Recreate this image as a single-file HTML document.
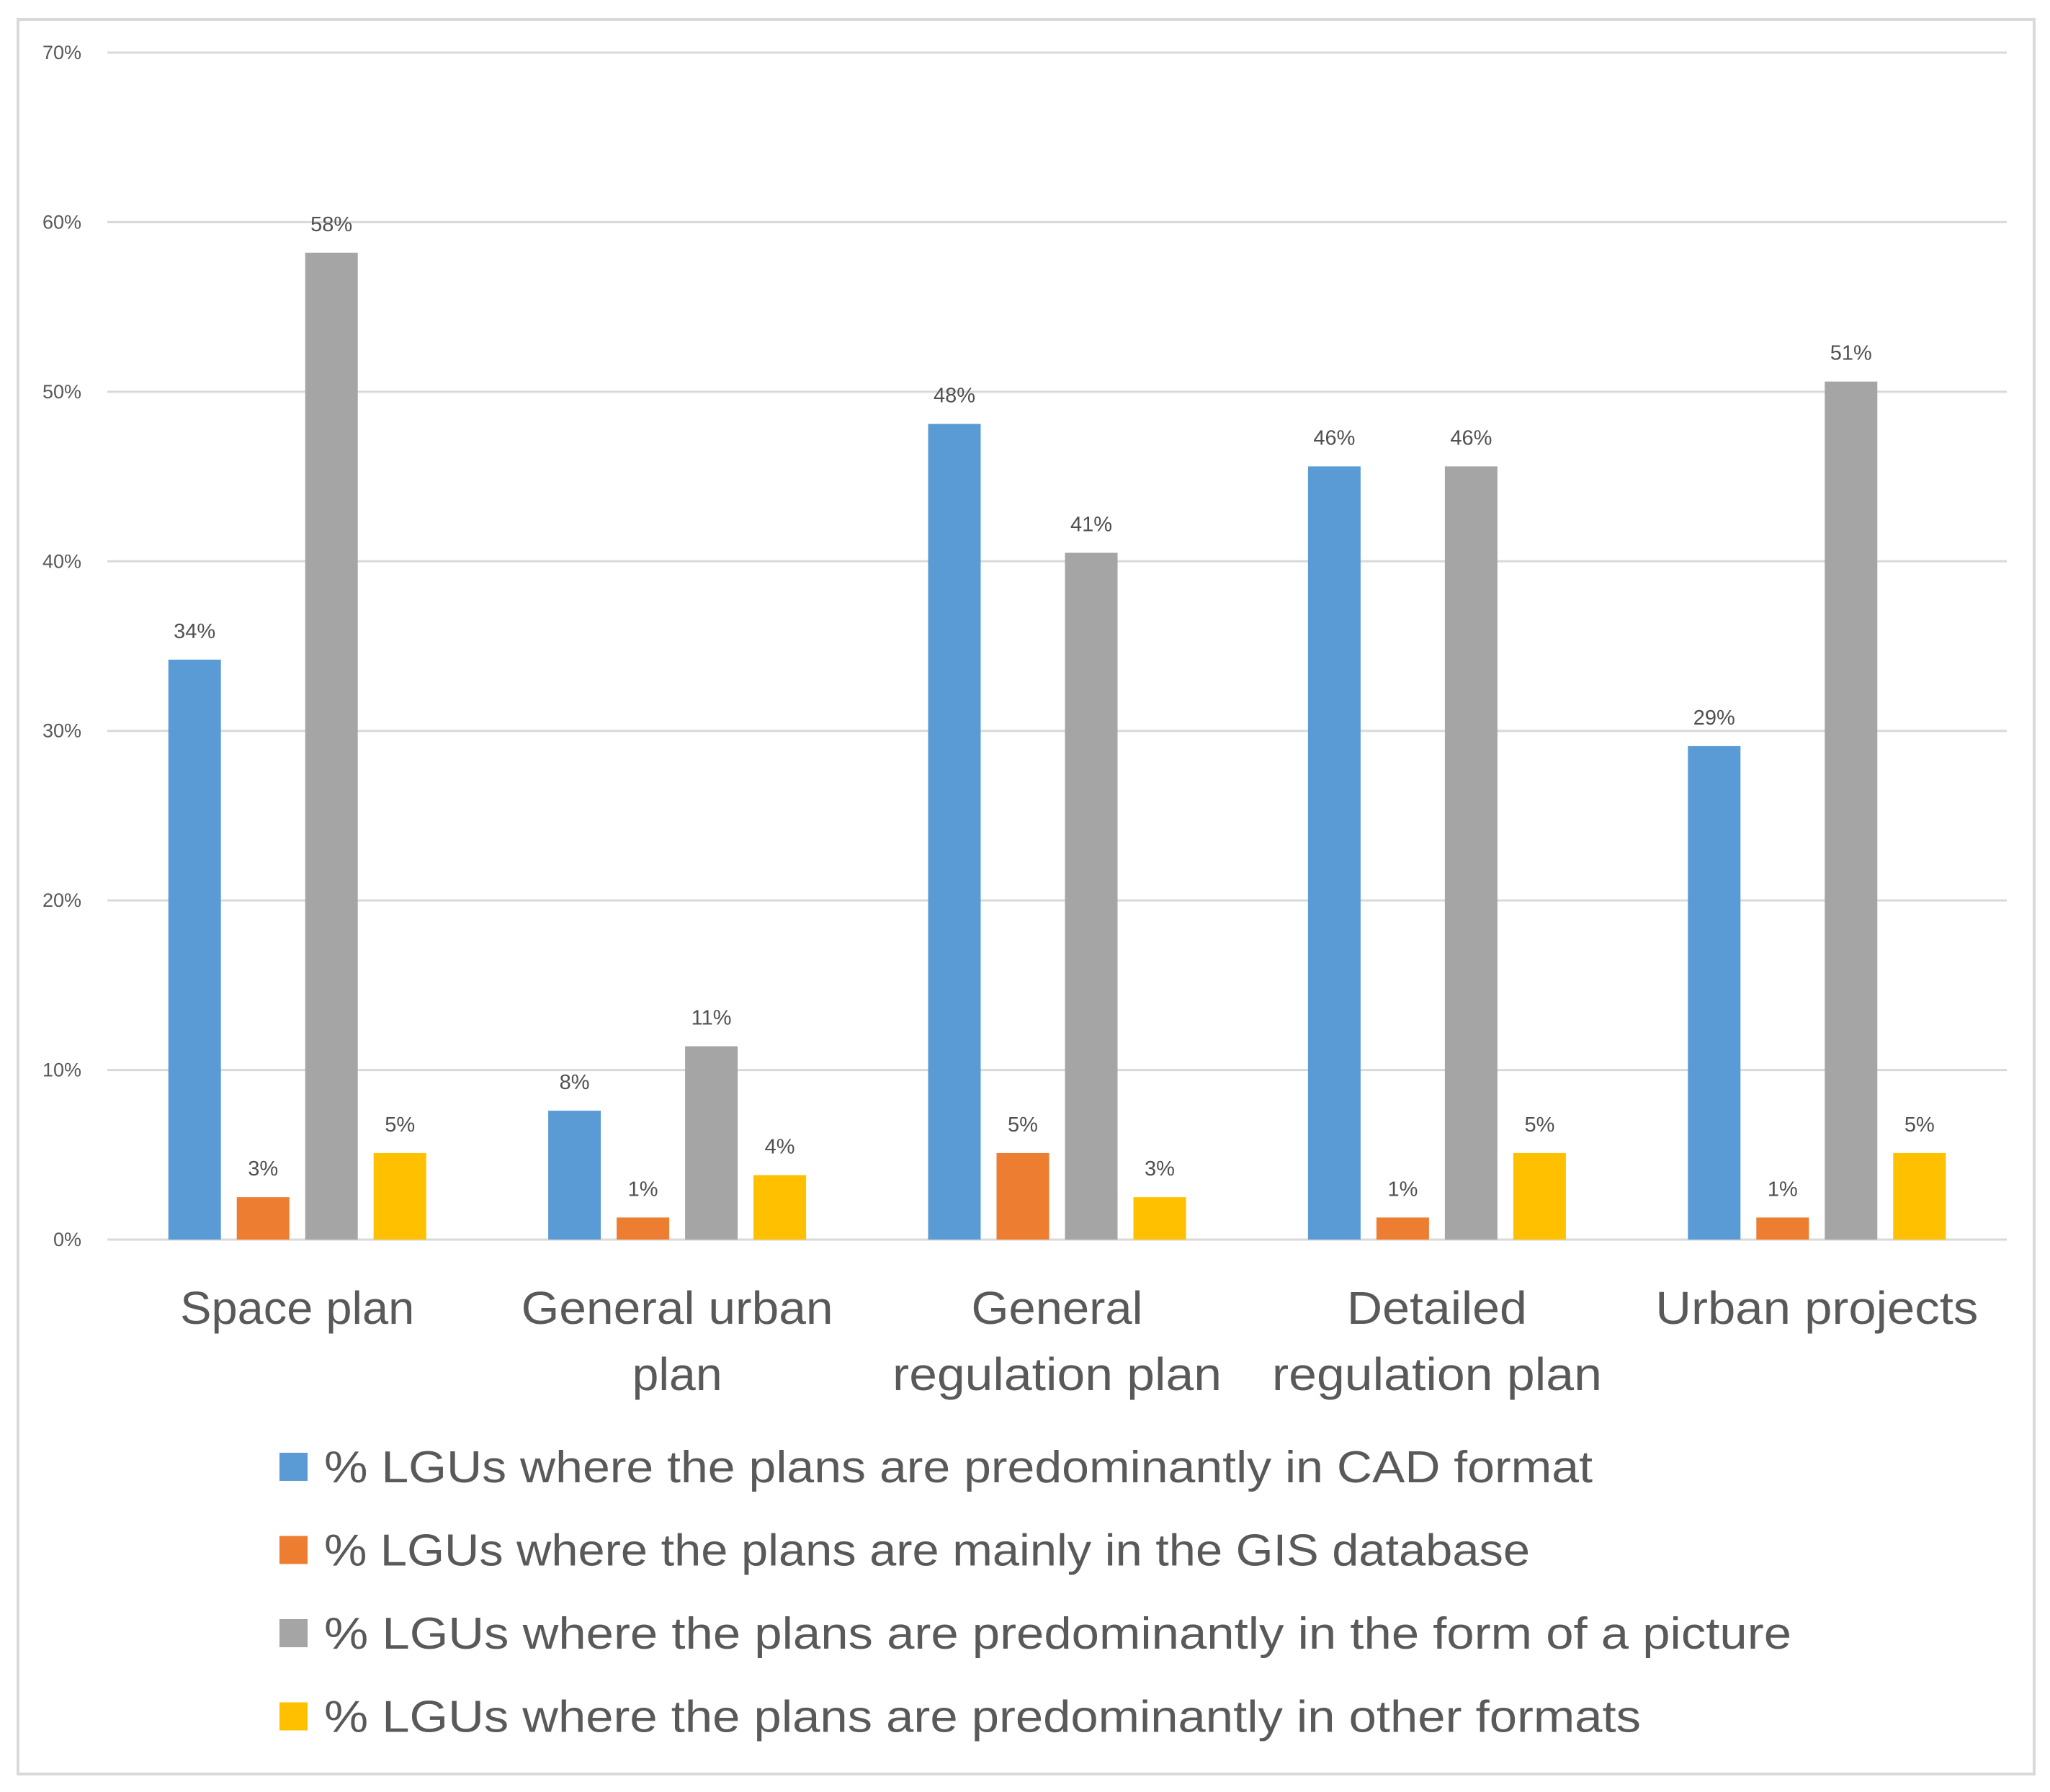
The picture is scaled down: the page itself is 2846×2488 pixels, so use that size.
<!DOCTYPE html>
<html><head><meta charset="utf-8"><style>
html,body{margin:0;padding:0;background:#fff;}
svg{display:block;font-family:"Liberation Sans",sans-serif;}
</style></head><body>
<svg id="chart" width="2846" height="2488" viewBox="0 0 2846 2488" xmlns="http://www.w3.org/2000/svg">
<rect x="25" y="27" width="2799" height="2436" fill="#fff" stroke="#d9d9d9" stroke-width="4"/>
<g id="grid"></g><g id="bars"></g><g id="labels"></g><g id="legend"></g>
</svg>
<script>
const categories = [["Space plan"],["General urban","plan"],["General","regulation plan"],["Detailed","regulation plan"],["Urban projects"]];
const seriesNames = ["% LGUs where the plans are predominantly in CAD format","% LGUs where the plans are mainly in the GIS database","% LGUs where the plans are predominantly in the form of a picture","% LGUs where the plans are predominantly in other formats"];
const cadValues = [34.2, 7.6, 48.1, 45.6, 29.1];
const gisValues = [2.5, 1.3, 5.1, 1.3, 1.3];
const pictureValues = [58.2, 11.4, 40.5, 45.6, 50.6];
const otherValues = [5.1, 3.8, 2.5, 5.1, 5.1];
const yTicks = [0,10,20,30,40,50,60,70];
const colors = ["#5B9BD5","#ED7D31","#A5A5A5","#FFC000"];
const series = [cadValues, gisValues, pictureValues, otherValues];
const NS="http://www.w3.org/2000/svg";
const plotL=149, plotR=2786, y0=1721, yTop=73, yMax=70;
const yScale=v=>y0-(v/yMax)*(y0-yTop);
const groupW=(plotR-plotL)/categories.length;
const barW=73, step=95;
const xCenter=i=>plotL+groupW*(i+0.5);
function mk(tag,attrs,parent){const e=document.createElementNS(NS,tag);for(const k in attrs)e.setAttribute(k,attrs[k]);parent.appendChild(e);return e;}
const grid=document.getElementById('grid'), bars=document.getElementById('bars'), labels=document.getElementById('labels'), legend=document.getElementById('legend');
yTicks.forEach(t=>{
  const l=mk('line',{x1:plotL,x2:plotR,y1:yScale(t),y2:yScale(t),stroke:"#d9d9d9","stroke-width":3},grid);
  
  
  const tx=mk('text',{x:113,y:yScale(t)+9,"text-anchor":"end","font-size":27,fill:"#595959"},grid);
  tx.textContent=t+"%";
  
  
});
series.forEach((vals,s)=>{
  vals.forEach((v,i)=>{
    const x=xCenter(i)-(1.5*step)+s*step-barW/2;
    const r=mk('rect',{x:x,y:yScale(v),width:barW,height:y0-yScale(v),fill:colors[s]},bars);
    
    
    const t=mk('text',{x:x+barW/2,y:yScale(v)-30,"text-anchor":"middle","font-size":29,fill:"#505050"},labels);
    t.textContent=Math.round(v)+"%";
    
    
  });
});
const catWidths=[[325],[433,125],[238,457],[250,458],[448]];
categories.forEach((lines,i)=>{
  lines.forEach((ln,j)=>{
    const t=mk('text',{x:xCenter(i),y:1838+j*92,"text-anchor":"middle","font-size":64,fill:"#595959",textLength:catWidths[i][j],lengthAdjust:"spacingAndGlyphs"},labels);
    t.textContent=ln;
    
    
  });
});
const legW=[1761,1674,2037,1828];
seriesNames.forEach((n,s)=>{
  const cy=2036+s*115.5;
  const r=mk('rect',{x:388,y:cy-19,width:39,height:39,fill:colors[s]},legend);
  
  
  const t=mk('text',{x:450,y:cy+22,"font-size":62,fill:"#595959",textLength:legW[s],lengthAdjust:"spacingAndGlyphs"},legend);
  t.textContent=n;
  
  
});
</script>
</body></html>
